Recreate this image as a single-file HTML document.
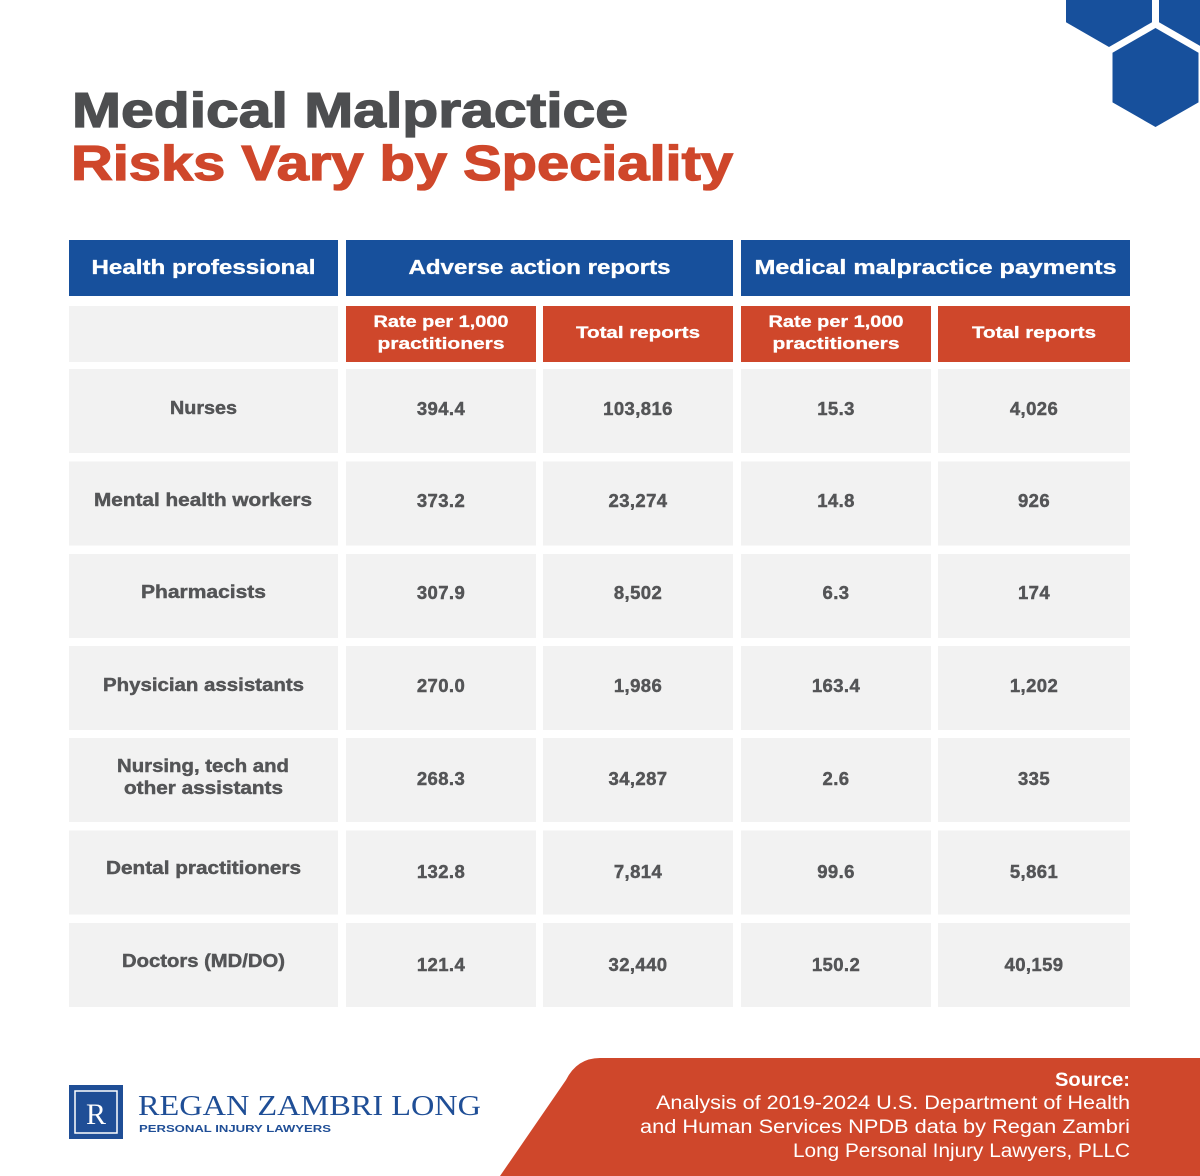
<!DOCTYPE html>
<html>
<head>
<meta charset="utf-8">
<style>
  html,body{margin:0;padding:0;background:#ffffff;}
  svg{display:block;}
  .t{font-family:"Liberation Sans",Arial,sans-serif;font-weight:bold;}
  .hdr{fill:#ffffff;font-size:20px;stroke:#ffffff;stroke-width:0.35px;}
  .sub{fill:#ffffff;font-size:17px;stroke:#ffffff;stroke-width:0.3px;}
  .lab{fill:#545557;font-size:18px;stroke:#545557;stroke-width:0.45px;}
  .num{fill:#545557;font-size:18.5px;letter-spacing:0.4px;stroke:#545557;stroke-width:0.45px;}
  .src{font-family:"Liberation Sans",Arial,sans-serif;fill:#ffffff;font-size:19px;}
</style>
</head>
<body>
<svg width="1200" height="1176" viewBox="0 0 1200 1176" xmlns="http://www.w3.org/2000/svg">
  <rect x="0" y="0" width="1200" height="1176" fill="#ffffff"/>

  <!-- hexagons -->
  <g fill="#17509c">
    <polygon points="1109,-52.2 1152,-27.4 1152,22.2 1109,47 1066,22.2 1066,-27.4"/>
    <polygon points="1202,-52.2 1245,-27.4 1245,22.2 1202,47 1159,22.2 1159,-27.4"/>
    <polygon points="1155.5,28 1198.5,52.8 1198.5,102.4 1155.5,127 1112.5,102.4 1112.5,52.8"/>
  </g>

  <!-- title -->
  <text class="t" x="72" y="127" font-size="49" fill="#4d4e50" stroke="#4d4e50" stroke-width="1.3" textLength="556" lengthAdjust="spacingAndGlyphs">Medical Malpractice</text>
  <text class="t" x="71" y="180" font-size="49" fill="#cf472b" stroke="#cf472b" stroke-width="1.3" textLength="662" lengthAdjust="spacingAndGlyphs">Risks Vary by Speciality</text>

  <!-- blue header row -->
  <g fill="#17509c">
    <rect x="69" y="240" width="269" height="56"/>
    <rect x="346" y="240" width="387" height="56"/>
    <rect x="741" y="240" width="389" height="56"/>
  </g>
  <text class="t hdr" x="203.5" y="274" text-anchor="middle" textLength="224" lengthAdjust="spacingAndGlyphs">Health professional</text>
  <text class="t hdr" x="539.5" y="274" text-anchor="middle" textLength="262" lengthAdjust="spacingAndGlyphs">Adverse action reports</text>
  <text class="t hdr" x="935.5" y="274" text-anchor="middle" textLength="362" lengthAdjust="spacingAndGlyphs">Medical malpractice payments</text>

  <!-- sub header row -->
  <rect x="69" y="306" width="269" height="56" fill="#f2f2f2"/>
  <g fill="#cf472b">
    <rect x="346" y="306" width="190" height="56"/>
    <rect x="543" y="306" width="190" height="56"/>
    <rect x="741" y="306" width="190" height="56"/>
    <rect x="938" y="306" width="192" height="56"/>
  </g>
  <text class="t sub" x="441" y="327" text-anchor="middle" textLength="135" lengthAdjust="spacingAndGlyphs">Rate per 1,000</text>
  <text class="t sub" x="441" y="349" text-anchor="middle" textLength="127" lengthAdjust="spacingAndGlyphs">practitioners</text>
  <text class="t sub" x="638" y="338" text-anchor="middle" textLength="124" lengthAdjust="spacingAndGlyphs">Total reports</text>
  <text class="t sub" x="836" y="327" text-anchor="middle" textLength="135" lengthAdjust="spacingAndGlyphs">Rate per 1,000</text>
  <text class="t sub" x="836" y="349" text-anchor="middle" textLength="127" lengthAdjust="spacingAndGlyphs">practitioners</text>
  <text class="t sub" x="1034" y="338" text-anchor="middle" textLength="124" lengthAdjust="spacingAndGlyphs">Total reports</text>

  <!-- data cells -->
  <g fill="#f2f2f2">
    <rect x="69" y="369" width="269" height="84"/><rect x="346" y="369" width="190" height="84"/><rect x="543" y="369" width="190" height="84"/><rect x="741" y="369" width="190" height="84"/><rect x="938" y="369" width="192" height="84"/>
    <rect x="69" y="461.5" width="269" height="84"/><rect x="346" y="461.5" width="190" height="84"/><rect x="543" y="461.5" width="190" height="84"/><rect x="741" y="461.5" width="190" height="84"/><rect x="938" y="461.5" width="192" height="84"/>
    <rect x="69" y="554" width="269" height="84"/><rect x="346" y="554" width="190" height="84"/><rect x="543" y="554" width="190" height="84"/><rect x="741" y="554" width="190" height="84"/><rect x="938" y="554" width="192" height="84"/>
    <rect x="69" y="646" width="269" height="84"/><rect x="346" y="646" width="190" height="84"/><rect x="543" y="646" width="190" height="84"/><rect x="741" y="646" width="190" height="84"/><rect x="938" y="646" width="192" height="84"/>
    <rect x="69" y="738" width="269" height="84"/><rect x="346" y="738" width="190" height="84"/><rect x="543" y="738" width="190" height="84"/><rect x="741" y="738" width="190" height="84"/><rect x="938" y="738" width="192" height="84"/>
    <rect x="69" y="830.5" width="269" height="84"/><rect x="346" y="830.5" width="190" height="84"/><rect x="543" y="830.5" width="190" height="84"/><rect x="741" y="830.5" width="190" height="84"/><rect x="938" y="830.5" width="192" height="84"/>
    <rect x="69" y="923" width="269" height="84"/><rect x="346" y="923" width="190" height="84"/><rect x="543" y="923" width="190" height="84"/><rect x="741" y="923" width="190" height="84"/><rect x="938" y="923" width="192" height="84"/>
  </g>

  <!-- row labels -->
  <text class="t lab" x="203.5" y="414" text-anchor="middle" textLength="67" lengthAdjust="spacingAndGlyphs">Nurses</text>
  <text class="t lab" x="203" y="506" text-anchor="middle" textLength="218" lengthAdjust="spacingAndGlyphs">Mental health workers</text>
  <text class="t lab" x="203.5" y="598" text-anchor="middle" textLength="125" lengthAdjust="spacingAndGlyphs">Pharmacists</text>
  <text class="t lab" x="203.5" y="691" text-anchor="middle" textLength="201" lengthAdjust="spacingAndGlyphs">Physician assistants</text>
  <text class="t lab" x="203" y="772" text-anchor="middle" textLength="172" lengthAdjust="spacingAndGlyphs">Nursing, tech and</text>
  <text class="t lab" x="203.5" y="794" text-anchor="middle" textLength="159" lengthAdjust="spacingAndGlyphs">other assistants</text>
  <text class="t lab" x="203.5" y="874" text-anchor="middle" textLength="195" lengthAdjust="spacingAndGlyphs">Dental practitioners</text>
  <text class="t lab" x="203.5" y="967" text-anchor="middle" textLength="163" lengthAdjust="spacingAndGlyphs">Doctors (MD/DO)</text>

  <!-- numbers -->
  <g class="t num" text-anchor="middle">
    <text x="441" y="415">394.4</text><text x="638" y="415">103,816</text><text x="836" y="415">15.3</text><text x="1034" y="415">4,026</text>
    <text x="441" y="507">373.2</text><text x="638" y="507">23,274</text><text x="836" y="507">14.8</text><text x="1034" y="507">926</text>
    <text x="441" y="599">307.9</text><text x="638" y="599">8,502</text><text x="836" y="599">6.3</text><text x="1034" y="599">174</text>
    <text x="441" y="692">270.0</text><text x="638" y="692">1,986</text><text x="836" y="692">163.4</text><text x="1034" y="692">1,202</text>
    <text x="441" y="785">268.3</text><text x="638" y="785">34,287</text><text x="836" y="785">2.6</text><text x="1034" y="785">335</text>
    <text x="441" y="878">132.8</text><text x="638" y="878">7,814</text><text x="836" y="878">99.6</text><text x="1034" y="878">5,861</text>
    <text x="441" y="971">121.4</text><text x="638" y="971">32,440</text><text x="836" y="971">150.2</text><text x="1034" y="971">40,159</text>
  </g>

  <!-- footer orange band -->
  <path d="M600,1058 L1200,1058 L1200,1176 L500,1176 L566,1080 Q577,1058 600,1058 Z" fill="#cf472b"/>
  <text class="t" x="1130" y="1086" text-anchor="end" font-size="19" fill="#ffffff" textLength="75" lengthAdjust="spacingAndGlyphs">Source:</text>
  <text class="src" x="1130" y="1109" text-anchor="end" textLength="474" lengthAdjust="spacingAndGlyphs">Analysis of 2019-2024 U.S. Department of Health</text>
  <text class="src" x="1130" y="1133" text-anchor="end" textLength="490" lengthAdjust="spacingAndGlyphs">and Human Services NPDB data by Regan Zambri</text>
  <text class="src" x="1130" y="1157" text-anchor="end" textLength="337" lengthAdjust="spacingAndGlyphs">Long Personal Injury Lawyers, PLLC</text>

  <!-- logo -->
  <rect x="69" y="1085" width="54" height="54" fill="#1f4e96"/>
  <rect x="75" y="1091" width="42" height="42" fill="none" stroke="#ffffff" stroke-width="1.5"/>
  <text x="96" y="1124" text-anchor="middle" font-family="'Liberation Serif',serif" font-size="30" fill="#ffffff">R</text>
  <text x="138" y="1115" font-family="'Liberation Serif',serif" font-size="28.5" fill="#1f4e96" textLength="343" lengthAdjust="spacingAndGlyphs">REGAN ZAMBRI LONG</text>
  <text class="t" x="139" y="1132" font-size="10.5" fill="#1f4e96" textLength="192" lengthAdjust="spacingAndGlyphs">PERSONAL INJURY LAWYERS</text>
</svg>
</body>
</html>
